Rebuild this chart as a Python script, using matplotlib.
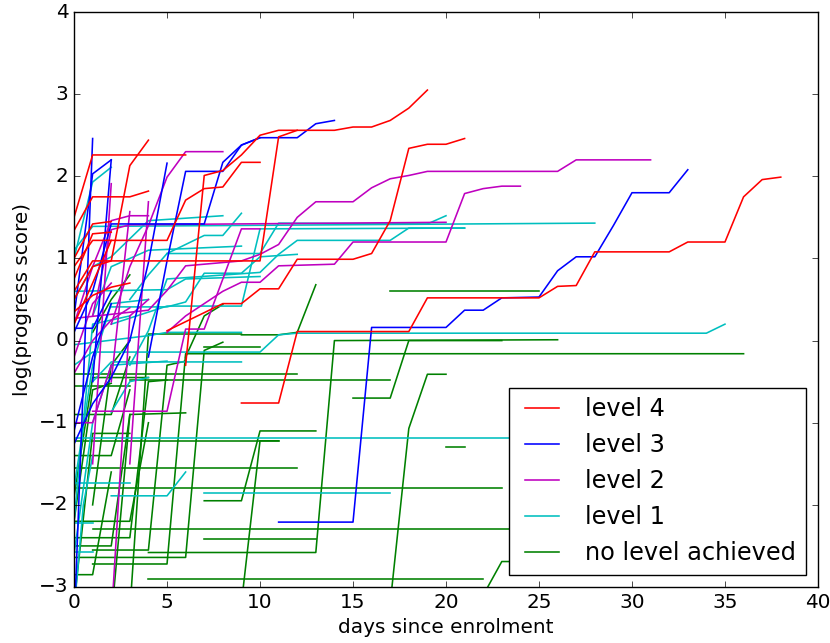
import matplotlib
matplotlib.use("Agg")
import matplotlib.pyplot as plt

# each line is one learner: (day, log progress score) vertices
level4 = [
    [(0, 1.5), (1, 2.26), (6, 2.26)],
    [(0, 1.34), (1, 1.75), (3, 1.75), (4, 1.82)],
    [(0, 0.5), (1, 0.9), (2, 0.97), (3, 2.13), (4, 2.44)],
    [(0, 0.9), (1, 1.22), (5, 1.22), (6, 1.71), (7, 1.85), (8, 1.87), (9, 2.17), (10, 2.17)],
    [(6, -0.3), (7, 2.01), (8, 2.07), (9, 2.26), (10, 2.5), (11, 2.56), (14, 2.56), (15, 2.6),
     (16, 2.6), (17, 2.68), (18, 2.83), (19, 3.05)],
    [(0, 0.6), (1, 0.97), (10, 0.97), (11, 2.48), (12, 2.56)],
    [(5, 0.12), (8, 0.45), (9, 0.45), (10, 0.63), (11, 0.63), (12, 0.99), (15, 0.99), (16, 1.06),
     (17, 1.46), (18, 2.34), (19, 2.39), (20, 2.39), (21, 2.46)],
    [(9, -0.76), (11, -0.76), (12, 0.11), (18, 0.11), (19, 0.52), (25, 0.52), (26, 0.66), (27, 0.67),
     (28, 1.08), (32, 1.08), (33, 1.2), (35, 1.2), (36, 1.75), (37, 1.96), (38, 1.99)],
    [(0, 0.2), (1, 0.7), (2, 1.22)],
    [(0, 0.75), (1, 1.3), (2, 1.32)],
    [(0, 0.35), (1, 0.55), (2, 0.65), (3, 0.7)],
    [(0, 1.0), (1, 1.42), (2, 1.45)],
]

level3 = [
    [(0, 0.1), (1, 0.6), (2, 1.42), (7, 1.42), (8, 2.17), (9, 2.38), (10, 2.47), (12, 2.47),
     (13, 2.64), (14, 2.68)],
    [(4, -0.2), (5, 0.97), (6, 2.06), (8, 2.06), (9, 2.38), (10, 2.47)],
    [(0, -1.26), (1, -0.77), (2, -0.45), (3, 0.0), (4, 0.95), (5, 2.16)],
    [(0, -3.5), (1, 2.46)],
    [(0, 0.3), (1, 2.03), (2, 2.2)],
    [(1, -0.5), (2, 2.2)],
    [(11, -2.21), (15, -2.21), (16, 0.16), (20, 0.16), (21, 0.37), (22, 0.37), (23, 0.52), (25, 0.53),
     (26, 0.85), (27, 1.02), (28, 1.02), (29, 1.4), (30, 1.8), (32, 1.8), (33, 2.08)],
    [(0, 0.15), (1, 0.15), (2, 0.6)],
    [(0, -1.1), (1, -0.2), (2, 0.45)],
]

level2 = [
    [(0, 0.27), (4, 0.37), (5, 0.61), (6, 0.91), (9, 0.97), (10, 1.05), (11, 1.17), (12, 1.5),
     (13, 1.69), (15, 1.69), (16, 1.86), (17, 1.97), (18, 2.01), (19, 2.06), (26, 2.06), (27, 2.2),
     (31, 2.2)],
    [(5, 0.1), (6, 0.3), (7, 0.45), (8, 0.6), (9, 0.71), (10, 0.71), (11, 0.91), (14, 0.93),
     (15, 1.2), (20, 1.2), (21, 1.79), (22, 1.85), (23, 1.88), (24, 1.88)],
    [(1, 0.3), (2, 1.35), (3, 1.41), (20, 1.44)],
    [(2, 0.2), (3, 0.9), (4, 1.4), (5, 1.99), (6, 2.3), (8, 2.3)],
    [(1, -1.5), (2, 1.91)],
    [(0, 0.2), (1, 0.9), (2, 1.46), (3, 1.52), (4, 1.52)],
    [(2, -0.5), (3, 1.57)],
    [(3, -1.5), (4, 1.69)],
    [(2, -3.4), (3, 0.3), (4, 0.5)],
    [(1, -0.86), (5, -0.86), (6, 0.14), (7, 0.14), (8, 0.75), (9, 1.36), (10, 1.36)],
    [(0, -1.0), (1, -1.0), (2, -0.3)],
    [(0, -0.4), (1, 0.0), (2, 0.25), (3, 0.4)],
    [(0, -0.2), (1, 0.45), (2, 0.7)],
]

level1 = [
    [(0, -0.3), (1, -0.14), (10, -0.14), (11, 0.07), (12, 0.09), (34, 0.09), (35, 0.2)],
    [(0, 1.1), (1, 1.39), (28, 1.43)],
    [(2, 0.2), (5, 0.42), (9, 0.42), (10, 1.36), (21, 1.37)],
    [(5, 1.06), (10, 1.06), (11, 1.43), (19, 1.42), (20, 1.52)],
    [(0, 0.5), (1, 0.9), (2, 1.02), (4, 1.46), (8, 1.52)],
    [(3, 0.5), (4, 0.8), (5, 1.06), (7, 1.28), (8, 1.28), (9, 1.55)],
    [(3, -0.3), (4, 0.12), (5, 0.75), (10, 0.83), (11, 1.05), (12, 1.22), (17, 1.22), (18, 1.37),
     (21, 1.37)],
    [(2, 0.41), (5, 0.41), (6, 0.47), (7, 0.82), (9, 0.82), (10, 1.02), (12, 1.05)],
    [(0, -1.18), (26, -1.18)],
    [(7, -1.85), (17, -1.85)],
    [(2, -1.89), (5, -1.89), (6, -1.6)],
    [(0, -0.05), (4, 0.06), (5, 0.1), (9, 0.1)],
    [(1, -0.5), (2, -0.26), (9, -0.26)],
    [(0, -2.6), (1, -1.0), (2, -0.3), (5, -0.25)],
    [(0, -2.2), (1, 0.2), (3, 0.3)],
    [(0, -1.8), (1, -0.3), (2, 0.45), (4, 0.5)],
    [(0, -1.73), (3, -1.73)],
    [(0, -2.22), (1, -2.22)],
    [(0, -2.58), (1, -2.58)],
    [(2, -0.87), (3, -0.5), (4, -0.45)],
    [(0, 0.6), (5, 0.62), (6, 0.75), (10, 0.78)],
    [(1, 0.3), (2, 0.9), (3, 1.0), (4, 1.1), (9, 1.15)],
    [(0, -3.3), (0.5, -2.0), (1, -1.4)],
    [(0, 1.0), (1, 1.93), (2, 2.11)],
]

level0 = [
    [(17, 0.6), (25, 0.6)],
    [(1, -2.72), (5, -2.72), (6, -0.16), (36, -0.16)],
    [(15, -0.7), (17, -0.7), (18, 0.0), (23, 0.0)],
    [(4, -2.58), (13, -2.58), (14, 0.0), (26, 0.01)],
    [(7, -1.95), (9, -1.95), (10, -1.1), (13, -1.1)],
    [(9, -3.2), (10, -1.22), (11, -1.22)],
    [(0, -1.22), (11, -1.22)],
    [(0, -1.8), (23, -1.8)],
    [(1, -2.29), (27, -2.29)],
    [(4, -2.9), (22, -2.9)],
    [(22, -3.1), (23, -2.69), (26, -2.69)],
    [(17, -3.2), (18, -1.07), (19, -0.41), (20, -0.41)],
    [(20, -1.29), (21, -1.29)],
    [(9, 0.07), (11, 0.07), (12, 0.1), (13, 0.68)],
    [(3, -0.48), (17, -0.48)],
    [(0, -0.41), (12, -0.41)],
    [(0, -1.55), (12, -1.55)],
    [(7, -2.42), (13, -2.42)],
    [(0, -2.64), (6, -2.64), (7, -0.12), (8, -0.02)],
    [(3, -3.3), (4, 0.08), (9, 0.08)],
    [(0, -2.4), (3, -2.4), (4, -0.5), (5, -0.48)],
    [(1, -2.55), (4, -2.55), (5, -0.3), (6, -0.25)],
    [(0, -3.2), (1, -1.13), (3, -1.13)],
    [(0, -2.2), (1, -0.6), (2, -0.52)],
    [(1, -2.0), (2, -0.3), (3, 0.0)],
    [(0, -1.9), (1, -0.45), (4, -0.45)],
    [(7, -0.08), (10, -0.08)],
    [(6, -0.2), (7, 0.3), (8, 0.44)],
    [(1, 0.1), (2, 0.5), (3, 0.8)],
    [(0, -2.2), (3, -2.2), (4, -1.0)],
    [(0, -2.5), (2, -2.5), (3, -0.9)],
    [(0, -2.85), (1, -2.85), (2, -1.6)],
    [(0, -1.4), (2, -1.4), (3, -0.6)],
    [(0, -0.55), (3, -0.55)],
    [(0, -0.9), (2, -0.9), (3, -0.2)],
    [(2, -3.4), (3, -0.9), (6, -0.88)],
]

groups = [
    (level0, 'g', 'no level achieved'),
    (level1, 'c', 'level 1'),
    (level2, 'm', 'level 2'),
    (level3, 'b', 'level 3'),
    (level4, 'r', 'level 4'),
]

plt.style.use('classic')
plt.rcParams['font.size'] = 14.4

fig = plt.figure(figsize=(8.3, 6.43), dpi=100, facecolor='white')
ax = fig.add_axes([0.0892, 0.0871, 0.8963, 0.8942])

handles = {}
for lines, col, lab in groups:
    for ln in lines:
        xs = [p[0] for p in ln]
        ys = [p[1] for p in ln]
        h, = ax.plot(xs, ys, color=col, linewidth=1.15)
    handles[lab] = h

order = ['level 4', 'level 3', 'level 2', 'level 1', 'no level achieved']
ax.legend([handles[k] for k in order], order, loc='lower right')

ax.set_xlim(0, 40)
ax.set_ylim(-3, 4)
ax.set_xlabel('days since enrolment')
ax.set_ylabel('log(progress score)')

fig.savefig('out.png', dpi=100, facecolor='white')
